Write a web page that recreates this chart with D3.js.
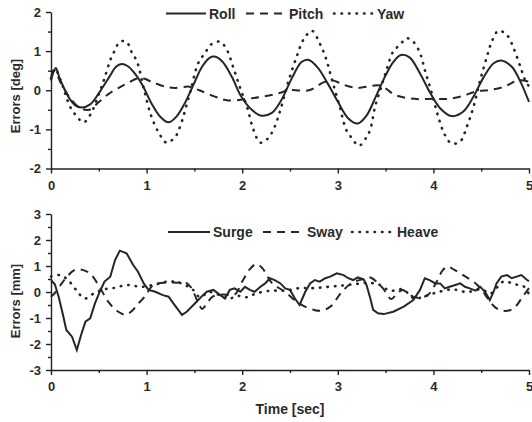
<!DOCTYPE html>
<html>
  <head>
    <meta charset="utf-8">
    <style>
      body { margin: 0; background: #fff; }
      svg { font-family: "Liberation Sans", Arial, sans-serif; }
      .axis path, .axis line { stroke: #222; stroke-width: 1.4; }
      .axis text { fill: #2b2b2b; font-size: 13px; font-weight: bold; }
      .series { fill: none; stroke: #262626; stroke-width: 2; }
      .dash { stroke-dasharray: 8,6; }
      .dot { stroke-dasharray: 0.5,7; stroke-linecap: round; stroke-width: 2.6; }
      .label { fill: #2b2b2b; font-size: 14px; font-weight: bold; }
    </style>
  </head>
  <body>
    <script src="https://d3js.org/d3.v7.min.js"></script>
    <div id="chart"></div>
    <script>
      // time ticks and axis ticks
      var timeTicks = [0, 1, 2, 3, 4, 5];
      var angleTicks = [-2, -1, 0, 1, 2];
      var distTicks = [-3, -2, -1, 0, 1, 2, 3];

      // rotation errors [deg], pairs of [time, value]
      var roll = [[0,0.25],[0.05,0.57],[0.09,0.31],[0.18,-0.16],[0.25,-0.38],[0.32,-0.44],[0.41,-0.36],
        [0.51,-0.04],[0.62,0.38],[0.68,0.6],[0.74,0.67],[0.8,0.62],[0.87,0.45],[0.95,0.16],[1.05,-0.33],
        [1.14,-0.67],[1.23,-0.82],[1.31,-0.68],[1.4,-0.33],[1.49,0.14],[1.58,0.6],[1.66,0.83],[1.71,0.86],
        [1.79,0.74],[1.89,0.35],[1.99,-0.16],[2.1,-0.5],[2.2,-0.65],[2.31,-0.58],[2.41,-0.25],[2.52,0.31],
        [2.62,0.72],[2.69,0.78],[2.79,0.58],[2.9,0.15],[3.0,-0.29],[3.11,-0.72],[3.21,-0.85],[3.3,-0.65],
        [3.4,-0.15],[3.5,0.38],[3.58,0.72],[3.66,0.9],[3.75,0.84],[3.86,0.43],[3.96,-0.04],[4.07,-0.46],
        [4.19,-0.66],[4.31,-0.55],[4.42,-0.16],[4.52,0.31],[4.63,0.69],[4.71,0.76],[4.82,0.6],[4.91,0.22],[5,-0.3]];
      var pitch = [[0,0.35],[0.04,0.5],[0.1,0.2],[0.2,-0.2],[0.3,-0.45],[0.4,-0.5],[0.5,-0.3],[0.6,-0.1],
        [0.7,0.05],[0.8,0.18],[0.9,0.3],[0.97,0.3],[1.05,0.22],[1.2,0.09],[1.3,0.06],[1.45,0.09],[1.55,0],
        [1.7,-0.15],[1.85,-0.26],[2.05,-0.22],[2.2,-0.17],[2.35,-0.1],[2.5,0],[2.7,0],[2.85,0.2],[2.95,0.25],
        [3.05,0.15],[3.2,0.06],[3.35,0.11],[3.45,0.12],[3.6,-0.12],[3.8,-0.22],[4.0,-0.22],[4.15,-0.22],
        [4.3,-0.15],[4.45,-0.03],[4.6,0.01],[4.75,0.1],[4.88,0.25],[5,0.22]];
      var yaw = [[0,0.3],[0.04,0.55],[0.1,0.26],[0.2,-0.42],[0.27,-0.67],[0.34,-0.82],[0.41,-0.63],[0.5,-0.1],
        [0.56,0.31],[0.62,0.77],[0.67,1.03],[0.72,1.24],[0.79,1.24],[0.84,0.99],[0.9,0.73],[0.97,0.05],
        [1.05,-0.67],[1.14,-1.14],[1.21,-1.34],[1.3,-1.19],[1.35,-0.93],[1.45,-0.1],[1.54,0.69],[1.61,0.95],
        [1.68,1.18],[1.77,1.24],[1.84,1.03],[1.91,0.56],[1.98,0.05],[2.05,-0.42],[2.12,-1.02],[2.19,-1.34],
        [2.27,-1.23],[2.34,-0.93],[2.4,-0.5],[2.48,0.2],[2.57,0.86],[2.64,1.29],[2.73,1.52],[2.81,1.2],
        [2.87,0.86],[2.94,0.26],[3.02,-0.42],[3.09,-1.02],[3.15,-1.23],[3.22,-1.42],[3.3,-1.2],[3.34,-1.0],
        [3.39,-0.42],[3.45,0.05],[3.51,0.52],[3.58,0.99],[3.65,1.16],[3.72,1.33],[3.79,1.24],[3.86,0.95],
        [3.91,0.52],[3.98,-0.05],[4.05,-0.67],[4.12,-1.14],[4.19,-1.36],[4.28,-1.31],[4.35,-0.93],[4.42,-0.42],
        [4.49,0.26],[4.56,0.86],[4.61,1.24],[4.68,1.52],[4.77,1.41],[4.84,1.07],[4.91,0.6],[4.96,0.26],[5,0.1]];

      // translation errors [mm]
      var surge = [[0,0.45],[0.04,0.3],[0.08,-0.18],[0.13,-0.95],[0.16,-1.46],[0.22,-1.72],[0.27,-2.23],
        [0.32,-1.59],[0.36,-1.14],[0.41,-1.01],[0.46,-0.44],[0.51,0.01],[0.56,0.4],[0.62,0.59],[0.67,1.23],
        [0.72,1.59],[0.79,1.49],[0.86,1.04],[0.91,0.78],[0.97,0.33],[1.02,0.08],[1.09,0.01],[1.17,-0.12],
        [1.23,-0.18],[1.28,-0.44],[1.37,-0.88],[1.42,-0.76],[1.49,-0.5],[1.54,-0.31],[1.59,-0.12],[1.63,0.01],
        [1.7,0.08],[1.77,-0.12],[1.82,-0.24],[1.87,0.08],[1.92,0.14],[1.98,0.01],[2.03,0.2],[2.08,0.08],
        [2.13,0.01],[2.19,0.2],[2.24,0.33],[2.29,0.53],[2.34,0.46],[2.4,0.33],[2.45,0.14],[2.5,0.08],
        [2.55,-0.24],[2.6,-0.5],[2.66,0.01],[2.71,0.33],[2.76,0.46],[2.81,0.4],[2.87,0.53],[2.92,0.59],
        [2.99,0.72],[3.06,0.65],[3.11,0.53],[3.16,0.46],[3.21,0.56],[3.27,0.49],[3.3,0.27],[3.34,-0.24],
        [3.37,-0.69],[3.42,-0.82],[3.48,-0.85],[3.58,-0.76],[3.69,-0.56],[3.79,-0.31],[3.86,0.08],[3.91,0.53],
        [3.96,0.46],[4.02,0.33],[4.07,0.33],[4.12,0.14],[4.17,0.2],[4.23,0.27],[4.28,0.33],[4.33,0.2],
        [4.38,0.14],[4.44,0.05],[4.49,0.2],[4.54,0.01],[4.59,-0.31],[4.63,0.01],[4.66,0.33],[4.71,0.59],
        [4.77,0.65],[4.82,0.53],[4.87,0.59],[4.92,0.65],[4.98,0.46],[5,0.42]];
      var sway = [[0,-0.18],[0.05,0],[0.1,0.27],[0.17,0.6],[0.25,0.85],[0.33,0.85],[0.41,0.7],[0.5,0.25],
        [0.6,-0.38],[0.7,-0.75],[0.78,-0.87],[0.84,-0.75],[0.9,-0.5],[0.98,-0.18],[1.06,0.23],[1.15,0.35],
        [1.24,0.37],[1.32,0.36],[1.4,0.38],[1.46,0.2],[1.5,-0.08],[1.55,-0.5],[1.58,-0.65],[1.62,-0.5],
        [1.69,-0.18],[1.8,-0.1],[1.92,-0.1],[2.0,0.4],[2.08,0.88],[2.15,1.08],[2.21,0.92],[2.31,0.35],
        [2.45,0],[2.6,-0.45],[2.76,-0.7],[2.85,-0.7],[2.93,-0.54],[3.04,0],[3.15,0.35],[3.27,0.5],
        [3.34,0.56],[3.47,0.15],[3.56,-0.27],[3.62,-0.05],[3.68,0.08],[3.75,-0.1],[3.83,-0.22],[3.94,-0.12],
        [4.02,0.3],[4.1,0.85],[4.15,0.97],[4.22,0.85],[4.31,0.65],[4.46,0.27],[4.58,-0.3],[4.65,-0.6],
        [4.73,-0.72],[4.8,-0.7],[4.86,-0.56],[4.93,-0.2],[5,0.15]];
      var heave = [[0,0.6],[0.1,0.65],[0.18,0.45],[0.27,0.05],[0.35,-0.25],[0.45,-0.05],[0.55,0.1],
        [0.65,0.15],[0.8,0.27],[0.95,0.2],[1.1,0.3],[1.22,0.4],[1.35,0.35],[1.48,0.1],[1.56,-0.2],[1.65,0],
        [1.75,-0.1],[1.85,-0.27],[1.95,-0.15],[2.05,-0.2],[2.15,-0.05],[2.3,0.05],[2.45,0.05],[2.6,0.15],
        [2.75,0.15],[2.9,0.2],[3.05,0.25],[3.18,0.3],[3.3,0.35],[3.42,0.3],[3.55,0.05],[3.68,0.1],[3.8,-0.25],
        [3.92,-0.15],[4.05,0],[4.2,0.1],[4.35,0],[4.5,0.1],[4.6,-0.05],[4.73,0.4],[4.85,0.3],[4.95,0.2],[5,-0.1]];

      var svg = d3.select("#chart").append("svg")
          .attr("width", 532)
          .attr("height", 422);

      var x = d3.scaleLinear().domain([0, 5]).range([51, 529]);

      function panel(opts) {
        var y = d3.scaleLinear().domain(opts.domain).range(opts.range);
        var g = svg.append("g");
        var bottom = opts.range[0];

        // minor ticks
        g.append("g").attr("class", "axis")
            .attr("transform", "translate(0," + bottom + ")")
            .call(d3.axisBottom(x).tickValues(d3.range(0.5, 5, 1)).tickSize(3).tickFormat(""))
            .select(".domain").remove();
        g.append("g").attr("class", "axis")
            .attr("transform", "translate(51,0)")
            .call(d3.axisLeft(y).tickValues(d3.range(opts.domain[0] + 0.5, opts.domain[1], 1)).tickSize(3).tickFormat(""))
            .select(".domain").remove();

        // main axes
        g.append("g").attr("class", "axis")
            .attr("transform", "translate(0," + bottom + ")")
            .call(d3.axisBottom(x).tickValues(timeTicks).tickSize(5).tickSizeOuter(0).tickPadding(7).tickFormat(d3.format("d")));
        g.append("g").attr("class", "axis")
            .attr("transform", "translate(51,0)")
            .call(d3.axisLeft(y).tickValues(opts.ticks).tickSize(5).tickSizeOuter(0).tickPadding(5)
                .tickFormat(function(d) { return d < 0 ? "-" + (-d) : d; }));

        // y label
        g.append("text").attr("class", "label")
            .attr("transform", "translate(19.5," + opts.labelY + ") rotate(-90)")
            .attr("text-anchor", "middle")
            .style("font-size", "13px")
            .text(opts.label);

        // lines
        opts.series.forEach(function(s) {
          var line = d3.line()
              .x(function(d) { return x(d[0]); })
              .y(function(d) { return y(d[1]); })
              .curve(s.curve);
          g.append("path").datum(s.data)
              .attr("class", "series " + s.style)
              .attr("d", line);
        });

        // legend
        opts.series.forEach(function(s, i) {
          var lx = opts.legend[i];
          g.append("line")
              .attr("class", "series " + s.style)
              .attr("x1", lx[0]).attr("x2", lx[1])
              .attr("y1", opts.legendY).attr("y2", opts.legendY);
          g.append("text").attr("class", "label")
              .attr("x", lx[1] + 3).attr("y", opts.legendY + 5)
              .text(s.name);
        });
      }

      panel({
        domain: [-2, 2], range: [168.5, 12], ticks: angleTicks,
        label: "Errors [deg]", labelY: 96,
        legendY: 13.5, legend: [[166, 206], [246, 286], [334, 374]],
        series: [
          {name: "Roll", data: roll, style: "", curve: d3.curveCatmullRom},
          {name: "Pitch", data: pitch, style: "dash", curve: d3.curveCatmullRom},
          {name: "Yaw", data: yaw, style: "dot", curve: d3.curveCatmullRom}
        ]
      });

      panel({
        domain: [-3, 3], range: [370, 214], ticks: distTicks,
        label: "Errors [mm]", labelY: 301,
        legendY: 232, legend: [[168, 210], [263, 304], [352, 394]],
        series: [
          {name: "Surge", data: surge, style: "", curve: d3.curveLinear},
          {name: "Sway", data: sway, style: "dash", curve: d3.curveCatmullRom},
          {name: "Heave", data: heave, style: "dot", curve: d3.curveCatmullRom}
        ]
      });

      // x label
      svg.append("text").attr("class", "label")
          .attr("x", 290).attr("y", 414)
          .attr("text-anchor", "middle")
          .text("Time [sec]");
    </script>
  </body>
</html>
